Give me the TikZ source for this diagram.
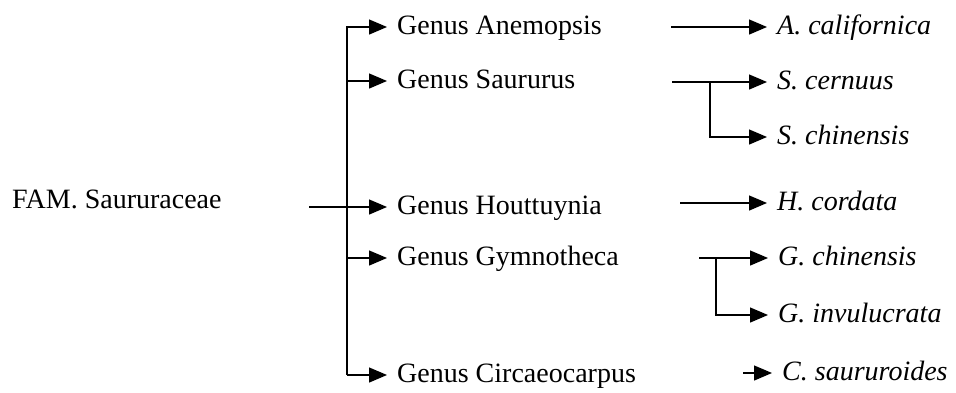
\documentclass[tikz,border=0pt]{standalone}
\usepackage{fontspec}
\setmainfont{Liberation Serif}
\usetikzlibrary{arrows.meta}
\tikzset{
  lbl/.style={anchor=west, inner xsep=10pt, inner ysep=0pt, text height=19pt, text depth=5pt, font=\fontsize{28}{33}\selectfont},
  sp/.style={lbl, font=\fontsize{28}{33}\selectfont\itshape},
  arr/.style={line width=1.3pt, -{Triangle[length=18pt,width=15pt]}},
}
\begin{document}
\begin{tikzpicture}[x=1pt,y=-1pt]
\useasboundingbox (0,0) rectangle (956,392);
% family
\node[anchor=base west, inner sep=0pt, font=\fontsize{28}{33}\selectfont] (fam) at (12,208) {FAM. Saururaceae};
\coordinate (famout) at (309,207);
\coordinate (spine) at (347,0);
% genera
\node[lbl] (ane) at (387,27) {Genus Anemopsis};
\node[lbl] (sau) at (387,81) {Genus Saururus};
\node[lbl] (hou) at (387,207) {Genus Houttuynia};
\node[lbl] (gym) at (387,258) {Genus Gymnotheca};
\node[lbl] (cir) at (387,375) {Genus Circaeocarpus};
% species
\node[sp] (acal) at (767,27) {A. californica};
\node[sp] (scer) at (767,82) {S. cernuus};
\node[sp] (schi) at (767,137) {S. chinensis};
\node[sp] (hcor) at (767,203) {H. cordata};
\node[sp] (gchi) at (768,258) {G. chinensis};
\node[sp] (ginv) at (768,315) {G. invulucrata};
\node[sp] (csau) at (772,373) {C. saururoides};
% right-side start points
\coordinate (aout) at (671,27);
\coordinate (sout) at (672,82);
\coordinate (sbr) at (710,0);
\coordinate (hout) at (680,203);
\coordinate (gout) at (699,258);
\coordinate (gbr) at (716,0);
\coordinate (cout) at (743,373);
% family to genera
\draw[arr] (spine |- cir.west) -- (spine |- ane.west) -- (ane.west);
\draw[arr] (spine |- sau.west) -- (sau.west);
\draw[arr] (famout) -- (hou.west);
\draw[arr] (spine |- gym.west) -- (gym.west);
\draw[arr] (spine |- cir.west) -- (cir.west);
% genera to species
\draw[arr] (aout) -- (acal.west);
\draw[arr] (sout) -- (scer.west);
\draw[arr] (sbr |- scer.west) -- (sbr |- schi.west) -- (schi.west);
\draw[arr] (hout) -- (hcor.west);
\draw[arr] (gout) -- (gchi.west);
\draw[arr] (gbr |- gchi.west) -- (gbr |- ginv.west) -- (ginv.west);
\draw[arr] (cout) -- (csau.west);
\end{tikzpicture}
\end{document}
